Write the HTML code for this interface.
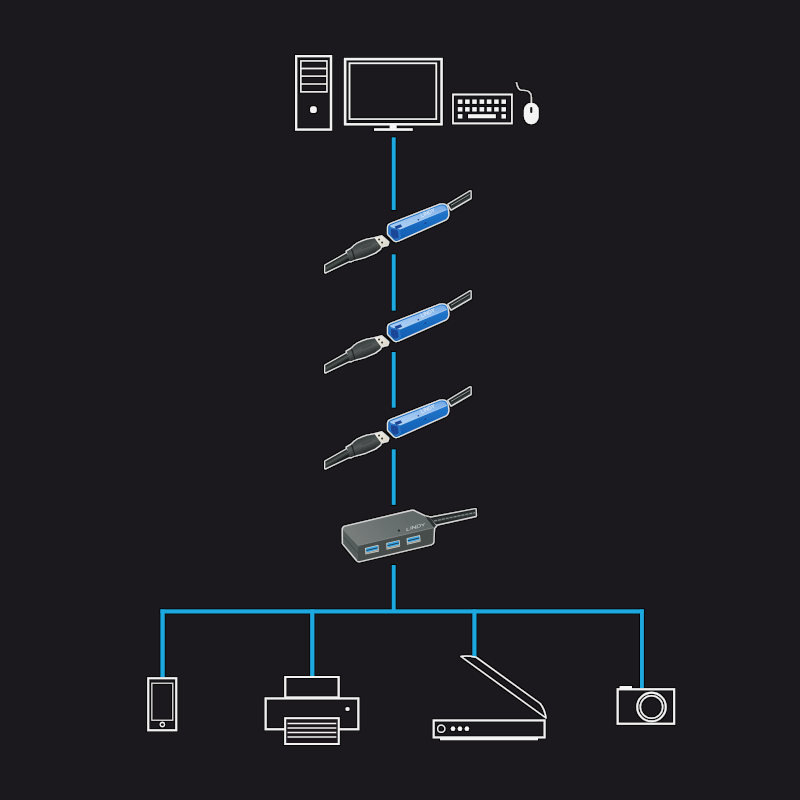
<!DOCTYPE html>
<html><head><meta charset="utf-8">
<style>
html,body{margin:0;padding:0;background:#1b191d;width:800px;height:800px;overflow:hidden;font-family:"Liberation Sans",sans-serif;}
svg{display:block}
</style></head>
<body>
<svg width="800" height="800" viewBox="0 0 800 800">
<rect x="0" y="0" width="800" height="800" fill="#1b191d"/>
<filter id="halo" filterUnits="userSpaceOnUse" x="0" y="0" width="800" height="800">
  <feMorphology in="SourceAlpha" operator="dilate" radius="1.2" result="d"/>
  <feGaussianBlur in="d" stdDeviation="0.7" result="b"/>
  <feFlood flood-color="#000" flood-opacity="0.8"/>
  <feComposite in2="b" operator="in" result="h"/>
  <feMerge><feMergeNode in="h"/><feMergeNode in="SourceGraphic"/></feMerge>
</filter>
<g filter="url(#halo)">

<!-- ===== TOP ICONS ===== -->
<g fill="none" stroke="#f2f2f2">
  <!-- tower -->
  <rect x="296.1" y="56.1" width="34.9" height="73.5" stroke-width="2.15"/>
  <rect x="300.8" y="60.9" width="26.1" height="30.9" stroke-width="1.45"/>
  <line x1="300.7" y1="68.5" x2="326.9" y2="68.5" stroke-width="1.4"/>
  <line x1="300.7" y1="76.2" x2="326.9" y2="76.2" stroke-width="1.4"/>
  <line x1="300.7" y1="84" x2="326.9" y2="84" stroke-width="1.4"/>
  <!-- monitor -->
  <rect x="345.1" y="59.1" width="96.5" height="65.1" stroke-width="2.3"/>
  <rect x="349.5" y="63.3" width="86.8" height="55.8" stroke-width="1.5"/>
</g>
<g fill="#f4f4f4">
  <circle cx="313.4" cy="109.7" r="3.4"/>
  <rect x="389.8" y="124" width="6.7" height="5"/>
  <rect x="374" y="128.3" width="38.7" height="2.5"/>
</g>
<!-- keyboard -->
<g>
  <rect x="453" y="94.5" width="58.9" height="28.9" fill="none" stroke="#f2f2f2" stroke-width="1.65"/>
  <g fill="#f4f4f4">
    <rect x="457.95" y="99.65" width="4.3" height="4.2"/><rect x="465.15" y="99.65" width="4.3" height="4.2"/><rect x="472.35" y="99.65" width="4.3" height="4.2"/><rect x="479.75" y="99.65" width="4.3" height="4.2"/><rect x="486.95" y="99.65" width="4.3" height="4.2"/><rect x="494.25" y="99.65" width="4.3" height="4.2"/><rect x="501.65" y="99.65" width="4.3" height="4.2"/>
    <rect x="457.95" y="107.15" width="4.3" height="4.2"/><rect x="465.15" y="107.15" width="4.3" height="4.2"/><rect x="472.35" y="107.15" width="4.3" height="4.2"/><rect x="479.75" y="107.15" width="4.3" height="4.2"/><rect x="486.95" y="107.15" width="4.3" height="4.2"/><rect x="494.25" y="107.15" width="4.3" height="4.2"/><rect x="501.65" y="107.15" width="4.3" height="4.2"/>
    <rect x="457.95" y="114.15" width="4.3" height="4.2"/><rect x="468" y="114.3" width="27.8" height="3.8"/><rect x="501.65" y="114.15" width="4.3" height="4.2"/>
  </g>
</g>
<!-- mouse -->
<path d="M516.4,82.2 C517.2,87.5 518.6,90.6 522.5,90.4 C528.5,89.9 531.4,92.4 531.4,97.5 L531.4,103" fill="none" stroke="#d8d8d8" stroke-width="1.4"/>
<rect x="523.9" y="102.7" width="14.8" height="21.5" rx="7.4" ry="7.8" fill="#f4f4f4"/>
<rect x="530.2" y="107" width="2.1" height="6.1" rx="1" fill="#1b191d"/>

<!-- ===== BLUE LINES ===== -->
<g fill="#1ea9df">
  <rect x="391.9" y="137.5" width="3.6" height="72.5"/>
  <rect x="391.9" y="254.5" width="3.6" height="56"/>
  <rect x="391.9" y="352" width="3.6" height="55.5"/>
  <rect x="391.9" y="449.5" width="3.6" height="55.3"/>
  <rect x="391.9" y="565" width="3.6" height="46"/>
  <rect x="160.6" y="609.5" width="483.1" height="3.8"/>
  <rect x="160.6" y="609.5" width="4" height="67.5"/>
  <rect x="310.2" y="609.5" width="4" height="67"/>
  <rect x="472.5" y="609.5" width="3.8" height="48"/>
  <rect x="640" y="609.5" width="3.8" height="78.5"/>
</g>


<!-- ===== HUB ===== -->
<g id="hub">
  <g fill="#d4d4d4" stroke="#d4d4d4" stroke-width="2.8" stroke-linejoin="round">
    <path d="M430,518 L475.5,509.3 L475.7,515.8 L436,524.6 Z"/>
    <path d="M343,529.4 Q343,527.4 345,526.8 L411,511.2 Q413.6,510.6 415.5,511.9 L424.5,516.3 L430,517.6 L436,525.6 L433.8,528.5 L433.2,542 Q433,543.6 431,544.2 L360,561 Q358,561.4 357,560.2 L343.2,543.4 Z"/>
  </g>
  <path d="M430,518 L475.5,509.3 L475.7,515.8 L436,524.6 Z" fill="url(#gCabH)"/>
  <path d="M434,521 L474.8,512.6" stroke="#8f9898" stroke-width="1.1" fill="none" stroke-dasharray="3 1" opacity="0.9"/>
  <!-- boot -->
  <path d="M424.5,516.3 L430,517.6 L436,525.6 L433.8,528.2 Z" fill="#2e3332"/>
  <!-- top face -->
  <path d="M343,529.4 Q343,527.4 345,526.8 L411,511.2 Q413.6,510.6 415.5,511.9 L424.5,516.3 L433.8,527.6 L358.2,545.6 Z" fill="url(#gHubTop)"/>
  <!-- front face -->
  <path d="M358.2,545.6 L433.8,527.6 L433.2,542 Q433,543.6 431,544.2 L360,561 Q358,561.4 357,560.2 Z" fill="#464d4c"/>
  <!-- left face -->
  <path d="M343,529.4 L358.2,545.6 L357.6,560.4 L343.2,543.4 Z" fill="#555c5b"/>
  <path d="M343.5,537 L358,553.4" stroke="#3a403f" stroke-width="0.8" fill="none"/>
  <path d="M358.2,545.6 L433.8,527.6" stroke="#7e8584" stroke-width="0.8" fill="none"/>
  <!-- ports -->
  <g id="port">
    <path d="M365,548 L378.4,544.8 L379,551.4 L365.4,554.6 Z" fill="#cfcfc8"/>
    <path d="M366,548.5 L377.6,545.7 L377.9,549.6 L366.3,552.4 Z" fill="#3aa3e0"/>
    <path d="M366.2,550.6 L377.8,547.8" stroke="#16324a" stroke-width="0.9"/>
    <path d="M365.6,553.4 L378.6,550.3" stroke="#8a8a80" stroke-width="0.8"/>
  </g>
  <use href="#port" transform="translate(21.2,-4.9)"/>
  <use href="#port" transform="translate(41.6,-9.8)"/>
  <circle cx="398.9" cy="530.6" r="1.1" fill="#222625"/>
  <path d="M0,0 V4 H2.2 M3.3,0 V4 M4.6,4 V0 L7.2,4 V0 M8.5,0 V4 H9.4 Q11.3,4 11.3,2 Q11.3,0 9.4,0 Z M12,0 L13.4,2 L14.8,0 M13.4,2 V4" transform="translate(406.8,527.8) rotate(-15) skewX(-10) scale(1.25,0.72)" fill="none" stroke="#b4baba" stroke-width="0.8"/>
</g>

<!-- ===== BOTTOM ICONS ===== -->
<g fill="none" stroke="#f2f2f2">
  <!-- phone -->
  <rect x="148.2" y="678.2" width="28" height="52" stroke-width="1.95"/>
  <rect x="151.8" y="683.3" width="20.9" height="37" stroke-width="1.1" stroke="#dedede"/>
  <circle cx="162.4" cy="724.5" r="2.15" stroke-width="1.05"/>
  <!-- printer -->
  <rect x="285.2" y="677" width="53.5" height="20.5" stroke-width="2"/>
  <rect x="265.7" y="698.4" width="92.6" height="30.8" stroke-width="2"/>
  <rect x="285.2" y="718.2" width="53.5" height="25.8" stroke-width="2" fill="#1b191d"/>
  <line x1="287.5" y1="723.5" x2="336.3" y2="723.5" stroke-width="1.5"/>
  <line x1="287.5" y1="728" x2="336.3" y2="728" stroke-width="1.5"/>
  <line x1="287.5" y1="732.5" x2="336.3" y2="732.5" stroke-width="1.5"/>
  <line x1="287.5" y1="737" x2="336.3" y2="737" stroke-width="1.5"/>
  <!-- scanner -->
  <rect x="433.7" y="720.4" width="110.9" height="17" stroke-width="1.9"/>
  <circle cx="441.2" cy="728.8" r="3.65" stroke-width="1.2"/>
  <path d="M461,656.5 C465,655.8 470,656 476,657.2 L540.2,703.5 C543,707 545,711 546,718 Z" stroke-width="1.45" stroke-linejoin="round"/>
  <!-- camera -->
  <rect x="617.7" y="689.2" width="56.4" height="34.6" stroke-width="2"/>
  <circle cx="651.5" cy="707" r="14.3" stroke-width="1.9"/>
  <circle cx="651.5" cy="707" r="11.2" stroke-width="1.4"/>
</g>
<g fill="#f4f4f4">
  <circle cx="347.5" cy="709" r="2"/>
  <circle cx="453" cy="728.8" r="2.2"/><circle cx="459.95" cy="728.8" r="2.2"/><circle cx="466.9" cy="728.8" r="2.2"/>
  <rect x="440" y="737.4" width="98" height="2.7"/>
  <rect x="619.8" y="686" width="12.2" height="3"/>
</g>

<!-- ===== CABLES ===== -->
<defs>
  <linearGradient id="gCab" gradientUnits="userSpaceOnUse" x1="335.57" y1="259.98" x2="338.43" y2="265.02">
    <stop offset="0" stop-color="#1c201f"/><stop offset="0.45" stop-color="#4e5553"/><stop offset="1" stop-color="#181c1b"/>
  </linearGradient>
  <linearGradient id="gCabF" gradientUnits="userSpaceOnUse" x1="458.44" y1="197.93" x2="461.56" y2="203.07">
    <stop offset="0" stop-color="#262a2a"/><stop offset="0.5" stop-color="#1a1e1e"/><stop offset="1" stop-color="#3c4343"/>
  </linearGradient>
  <linearGradient id="gCabH" gradientUnits="userSpaceOnUse" x1="454.38" y1="513.76" x2="455.62" y2="520.24">
    <stop offset="0" stop-color="#1c201f"/><stop offset="0.5" stop-color="#3e4544"/><stop offset="1" stop-color="#181c1b"/>
  </linearGradient>
  <linearGradient id="gBlueTop" x1="0" y1="0" x2="0.12" y2="1">
    <stop offset="0" stop-color="#6aa2e2"/><stop offset="0.5" stop-color="#96c0ee"/><stop offset="1" stop-color="#b0d2f4"/>
  </linearGradient>
  <linearGradient id="gBlueSide" x1="0" y1="0" x2="0.12" y2="1">
    <stop offset="0" stop-color="#2a80d6"/><stop offset="1" stop-color="#0e5cb0"/>
  </linearGradient>
  <linearGradient id="gPlug" gradientUnits="userSpaceOnUse" x1="362.8" y1="243.4" x2="367.2" y2="254.6">
    <stop offset="0" stop-color="#3e4443"/><stop offset="0.45" stop-color="#545a59"/><stop offset="1" stop-color="#2a2e2d"/>
  </linearGradient>
  <linearGradient id="gMetal" x1="0" y1="0" x2="1" y2="1">
    <stop offset="0" stop-color="#f4f2ea"/><stop offset="1" stop-color="#d6d2c4"/>
  </linearGradient>
  <linearGradient id="gHubTop" x1="0" y1="0.3" x2="1" y2="0">
    <stop offset="0" stop-color="#767c7a"/><stop offset="0.4" stop-color="#6a7170"/><stop offset="1" stop-color="#5c6363"/>
  </linearGradient>
</defs>
<g id="usb">
  <!-- outlines (merged) -->
  <g fill="#e0e0e0" stroke="#e0e0e0" stroke-width="2.6" stroke-linejoin="round">
    <path d="M448.5,204.6 L470.4,191.3 L470.5,198.1 L451.2,209.3 Z"/>
    <path d="M388.2,227 Q388.4,224.8 390.8,224 L440,204.8 Q445.8,203.6 447.2,207.6 L448.2,213.2 Q448.2,217.8 445.8,219.2 L398,240.6 Q395.6,241.4 394,240 L388.2,234 Z"/>
    <path d="M325.3,265.6 L347,253.3 L350.8,260.2 L325.3,272.3 Z"/>
    <path d="M346.8,251.4 L352,248.4 Q354.5,245.4 357.5,243.6 Q362,241.2 367,239.8 L375,238.2 L381,246.4 L380.2,248.6 L375,252.6 Q370,254.8 366,256.4 L360,258.3 L355,259.4 L351.6,260.9 L349.6,261.3 Z"/>
    <path d="M374.8,238.2 L381.6,236.4 L388.1,242.3 L387.5,244.7 L380.9,246.5 Z"/>
  </g>
  <!-- female cable -->
  <path d="M448.5,204.6 L470.4,191.3 L470.5,198.1 L451.2,209.3 Z" fill="url(#gCabF)"/>
  <path d="M451,205.4 L469.6,194.4" stroke="#a4acac" stroke-width="0.9" fill="none"/>
  <!-- blue connector -->
  <path d="M388.2,227 Q388.4,224.8 390.8,224 L440,204.8 Q445.8,203.6 447.2,207.6 L448.2,213.2 Q448.2,217.8 445.8,219.2 L398,240.6 Q395.6,241.4 394,240 L388.2,234 Z" fill="url(#gBlueSide)"/>
  <path d="M389.8,225.6 L440.6,205.6 Q445,204.8 446.4,208.4 L446.8,209.6 L399.5,229.4 L390.8,227.6 Z" fill="url(#gBlueTop)"/>
  <path d="M399.5,229.4 L446.8,209.6" stroke="#c4def8" stroke-width="0.8" fill="none" opacity="0.8"/>
  <path d="M389.2,227 L399.5,229.2 L401.2,237.2 L397.5,240.2 L394.3,239.6 L389.2,233.8 Z" fill="#2a74c4"/>
  <path d="M391,229.4 Q390.4,229 391.4,229 L396.8,230.2 Q397.8,230.5 398,231.6 L398.6,236.8 Q398.6,238 397.4,238.2 L394.6,238.6 Q393.8,238.6 393.2,238 L391,234.4 Z" fill="#1b4698"/>
  <path d="M394.6,226.6 L400.6,224.2 L402.2,226.8 L396.2,229.2 Z" fill="#1d4697"/>
  <circle cx="418.4" cy="219.8" r="0.8" fill="#1c3f8c"/>
  <circle cx="425.4" cy="223.2" r="0.9" fill="#1c3f8c"/>
  <path d="M0,0 V4 H2.2 M3.3,0 V4 M4.6,4 V0 L7.2,4 V0 M8.5,0 V4 H9.4 Q11.3,4 11.3,2 Q11.3,0 9.4,0 Z M12,0 L13.4,2 L14.8,0 M13.4,2 V4" transform="translate(420.5,213.6) rotate(-23) scale(0.95)" fill="none" stroke="#d2e2f6" stroke-width="0.85"/>
  <!-- male cable -->
  <path d="M325.3,265.6 L347,253.3 L350.8,260.2 L325.3,272.3 Z" fill="url(#gCab)"/>
  <!-- plug body -->
  <path d="M346.8,251.4 L352,248.4 Q354.5,245.4 357.5,243.6 Q362,241.2 367,239.8 L375,238.2 L381,246.4 L380.2,248.6 L375,252.6 Q370,254.8 366,256.4 L360,258.3 L355,259.4 L351.6,260.9 L349.6,261.3 Z" fill="url(#gPlug)"/>
  <path d="M351.5,248.8 Q353.5,254.5 355,259.6" stroke="#1e2221" stroke-width="1.1" fill="none"/>
  <path d="M362,248.6 L372,244.6" stroke="#2c302f" stroke-width="0.8" fill="none" opacity="0.7"/>
  <!-- metal -->
  <path d="M374.8,238.2 L381.6,236.4 L388.1,242.3 L387.5,244.7 L380.9,246.5 Z" fill="url(#gMetal)"/>
  <ellipse cx="379.1" cy="239.5" rx="1.05" ry="0.9" fill="#34332f"/>
  <ellipse cx="382.1" cy="242.5" rx="1.05" ry="0.9" fill="#34332f"/>
</g>
<use href="#usb" transform="translate(0,100)"/>
<use href="#usb" transform="translate(0,196)"/>


</g>
</svg>
</body></html>
